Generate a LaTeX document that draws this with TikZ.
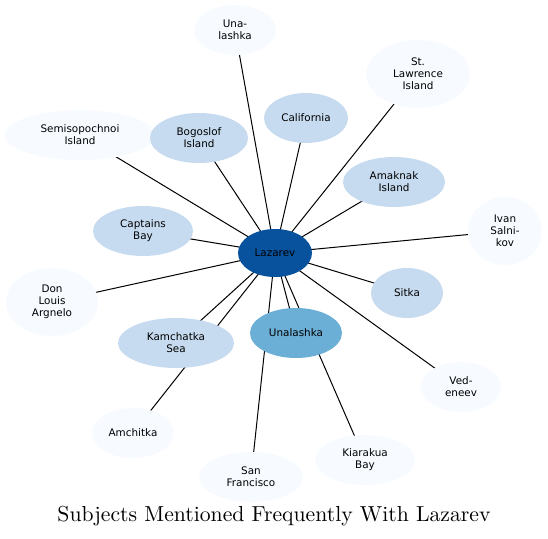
\documentclass[tikz,border=0pt]{standalone}
\usepackage{fontspec}
\setsansfont{DejaVu Sans}
\newfontfamily\titlefont{lmroman10-regular.otf}
\usetikzlibrary{shapes.geometric,backgrounds}
\definecolor{cdark}{HTML}{08519C}
\definecolor{cmid}{HTML}{6BAED6}
\definecolor{clight}{HTML}{C6DBEF}
\definecolor{cpale}{HTML}{F7FBFF}
\begin{document}
\begin{tikzpicture}[x=1pt,y=-1pt,
  nd/.style={ellipse,draw=none,inner sep=0pt,outer sep=0pt,align=center,
    font=\sffamily\fontsize{10.4}{12}\selectfont},
  pale/.style={nd,fill=cpale},
  light/.style={nd,fill=clight},
  edge/.style={draw=black,line width=1pt}]
\useasboundingbox (0,0) rectangle (548,538);
\node[nd,fill=cdark,minimum width=74pt,minimum height=48pt] (laz) at (275,253) {Lazarev};
\node[pale,minimum width=82pt,minimum height=50pt] (una) at (235,30) {Una-\\lashka};
\node[pale,minimum width=104pt,minimum height=68pt] (stl) at (418,74) {St.\\Lawrence\\Island};
\node[light,minimum width=84pt,minimum height=50pt] (cal) at (306,118) {California};
\node[pale,minimum width=150pt,minimum height=50pt] (sem) at (80,135) {Semisopochnoi\\Island};
\node[light,minimum width=98pt,minimum height=50pt] (bog) at (199,138) {Bogoslof\\Island};
\node[light,minimum width=102pt,minimum height=50pt] (ama) at (394,182) {Amaknak\\Island};
\node[light,minimum width=100pt,minimum height=50pt] (cap) at (143,231) {Captains\\Bay};
\node[pale,minimum width=74pt,minimum height=68pt] (iva) at (505,231) {Ivan\\Salni-\\kov};
\node[pale,minimum width=92pt,minimum height=68pt] (don) at (52,302) {Don\\Louis\\Argnelo};
\node[light,minimum width=72pt,minimum height=50pt] (sit) at (407,293) {Sitka};
\node[light,minimum width=116pt,minimum height=50pt] (kam) at (176,343) {Kamchatka\\Sea};
\node[nd,fill=cmid,minimum width=92pt,minimum height=50pt] (unl) at (296,333) {Unalashka};
\node[pale,minimum width=80pt,minimum height=50pt] (ved) at (461,387) {Ved-\\eneev};
\node[pale,minimum width=82pt,minimum height=50pt] (amc) at (133,433) {Amchitka};
\node[pale,minimum width=104pt,minimum height=50pt] (san) at (251,477) {San\\Francisco};
\node[pale,minimum width=100pt,minimum height=50pt] (kia) at (365,460) {Kiarakua\\Bay};
\node[font=\titlefont\fontsize{21.7}{25}\selectfont,inner sep=0pt] (title) at (274,516) {Subjects Mentioned Frequently With Lazarev};
\begin{scope}[on background layer]
\foreach \t in {una,stl,cal,sem,bog,ama,cap,iva,don,sit,kam,unl,ved,amc,san,kia}
  \draw[edge] (laz.center) -- (\t.center);
\end{scope}
\end{tikzpicture}
\end{document}
